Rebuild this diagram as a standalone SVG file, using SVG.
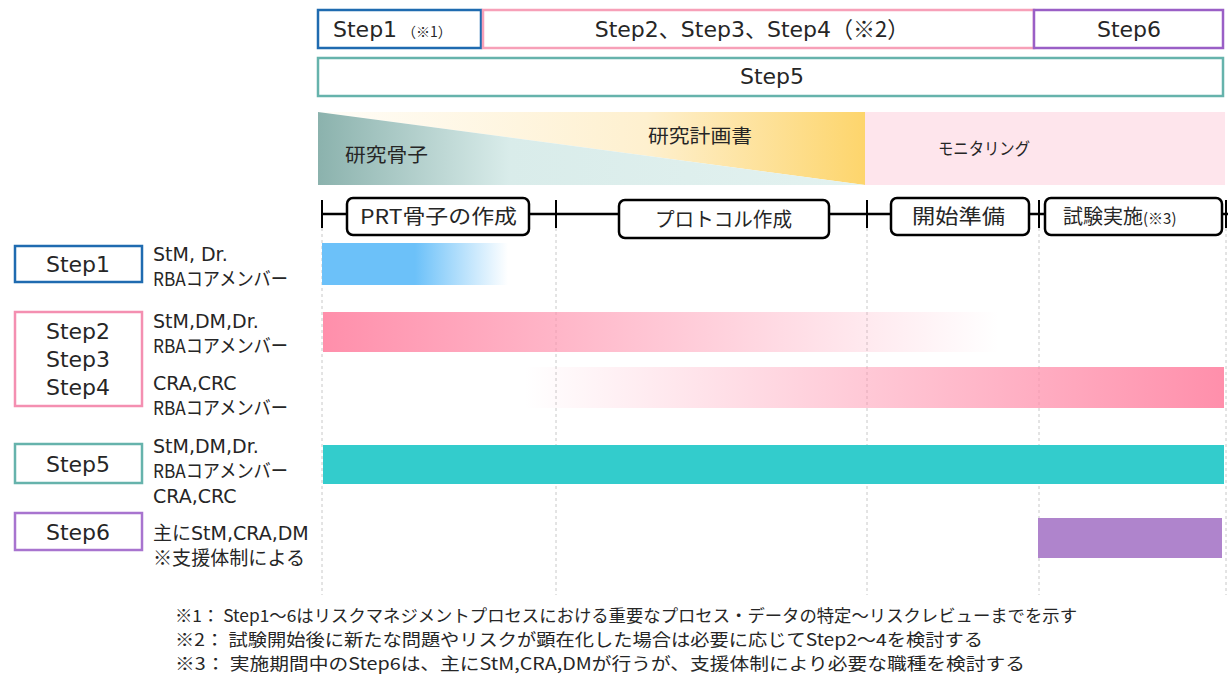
<svg xmlns="http://www.w3.org/2000/svg" width="1230" height="678" viewBox="0 0 1230 678">
<defs>
<style>
text{font-family:"Noto Sans CJK JP","Liberation Sans",sans-serif;fill:#262626}
.lat{font-family:"DejaVu Sans","Noto Sans CJK JP",sans-serif}
.box{fill:#fff;stroke-width:2.5}
.t20{font-size:22px}
.t17{font-size:19px}
.lbl{font-size:17px}
.mem{font-size:19px}
.pl{font-size:20px}
.ph{fill:#fff;stroke:#000;stroke-width:2.5}
.vd{stroke:#c8c8c8;stroke-width:1;stroke-dasharray:3 3}
</style>
<linearGradient id="gTeal" x1="0" y1="0" x2="1" y2="0"><stop offset="0" stop-color="#8BB2AD"/><stop offset="0.35" stop-color="#D9ECEA"/><stop offset="1" stop-color="#E3F2F0"/></linearGradient>
<linearGradient id="gYel" x1="0" y1="0" x2="1" y2="0"><stop offset="0" stop-color="#FFFDF8"/><stop offset="0.6" stop-color="#FEF0CF"/><stop offset="1" stop-color="#FDD56C"/></linearGradient>
<linearGradient id="gBlue" x1="0" y1="0" x2="1" y2="0"><stop offset="0" stop-color="#6CC1F9"/><stop offset="0.5" stop-color="#6CC1F9"/><stop offset="1" stop-color="#6CC1F9" stop-opacity="0"/></linearGradient>
<linearGradient id="gPink1" x1="0" y1="0" x2="1" y2="0"><stop offset="0" stop-color="#FF8FAB"/><stop offset="1" stop-color="#FF8FAB" stop-opacity="0"/></linearGradient>
<linearGradient id="gPink2" x1="0" y1="0" x2="1" y2="0"><stop offset="0" stop-color="#FF8FAB" stop-opacity="0"/><stop offset="1" stop-color="#FF8FAB"/></linearGradient>
</defs>
<rect width="1230" height="678" fill="#fff"/>

<g id="top-step1"><rect class="box" x="318" y="10" width="163" height="38" stroke="#1F6BB0"/><text x="333" y="37" class="t20 lat">Step1</text><text x="402" y="37" font-size="14">（※1）</text></g>
<g id="top-step234"><rect class="box" x="483" y="10" width="551" height="38" stroke="#F7A0B8"/><text x="752" y="37" class="t20" text-anchor="middle"><tspan class="lat">Step2</tspan>、<tspan class="lat">Step3</tspan>、<tspan class="lat">Step4</tspan>（※2）</text></g>
<g id="top-step6"><rect class="box" x="1034" y="10" width="189" height="38" stroke="#9A5FC6"/><text x="1129" y="37" class="t20 lat" text-anchor="middle">Step6</text></g>
<g id="top-step5"><rect class="box" x="318" y="58" width="905" height="38" stroke="#66B3AC"/><text x="772" y="84" class="t20 lat" text-anchor="middle">Step5</text></g>

<g id="phase-bg">
<polygon points="318,112 865,112 865,185" fill="url(#gYel)"/>
<polygon points="318,112 318,185 865,185" fill="url(#gTeal)"/>
<rect x="865" y="112" width="360" height="73" fill="#FEE5EC"/>
<text x="345" y="162" class="t17" textLength="83" lengthAdjust="spacingAndGlyphs">研究骨子</text>
<text x="648" y="143" class="t17" textLength="104" lengthAdjust="spacingAndGlyphs">研究計画書</text>
<text x="938" y="155" font-size="17" textLength="92" lengthAdjust="spacingAndGlyphs">モニタリング</text>
</g>

<g id="grid">
<line class="vd" x1="322" y1="228" x2="322" y2="595"/>
<line class="vd" x1="556" y1="228" x2="556" y2="595"/>
<line class="vd" x1="867" y1="228" x2="867" y2="595"/>
<line class="vd" x1="1039" y1="228" x2="1039" y2="595"/>
<line class="vd" x1="1226" y1="228" x2="1226" y2="595"/>
</g>

<g id="connectors">
<line x1="322" y1="214" x2="1228" y2="214" stroke="#000" stroke-width="2.5"/>
<line x1="322" y1="200" x2="322" y2="228" stroke="#000" stroke-width="2"/>
<line x1="556" y1="200" x2="556" y2="228" stroke="#000" stroke-width="2"/>
<line x1="867" y1="200" x2="867" y2="228" stroke="#000" stroke-width="2"/>
<line x1="1039" y1="200" x2="1039" y2="228" stroke="#000" stroke-width="2"/>
<line x1="1226" y1="200" x2="1226" y2="228" stroke="#000" stroke-width="2"/>
</g>

<g id="phase-prt"><rect class="ph" x="347" y="198" width="182" height="37" rx="6"/><text x="360" y="224" class="pl" textLength="157" lengthAdjust="spacingAndGlyphs">PRT骨子の作成</text></g>
<g id="phase-protocol"><rect class="ph" x="619" y="200" width="210" height="38" rx="6"/><text x="655" y="227" class="pl" textLength="137" lengthAdjust="spacingAndGlyphs">プロトコル作成</text></g>
<g id="phase-prep"><rect class="ph" x="891" y="198" width="138" height="37" rx="6"/><text x="912" y="224" class="pl" textLength="93" lengthAdjust="spacingAndGlyphs">開始準備</text></g>
<g id="phase-exec"><rect class="ph" x="1045" y="198" width="177" height="37" rx="6"/><text x="1063" y="224" class="pl">試験実施<tspan font-size="15">(※3)</tspan></text></g>

<g id="left-step1"><rect class="box" x="15" y="246" width="127" height="36" stroke="#1F6BB0"/><text x="78" y="272" class="t20 lat" text-anchor="middle">Step1</text>
<text x="153" y="261" class="mem lat">StM, Dr.</text><text x="153" y="286" class="mem" textLength="135" lengthAdjust="spacingAndGlyphs">RBAコアメンバー</text></g>
<g id="left-step234"><rect class="box" x="15" y="312" width="127" height="94" stroke="#F48FB1"/>
<text x="78" y="339" class="t20 lat" text-anchor="middle">Step2</text><text x="78" y="367" class="t20 lat" text-anchor="middle">Step3</text><text x="78" y="395" class="t20 lat" text-anchor="middle">Step4</text>
<text x="153" y="328" class="mem lat">StM,DM,Dr.</text><text x="153" y="353" class="mem" textLength="135" lengthAdjust="spacingAndGlyphs">RBAコアメンバー</text>
<text x="153" y="390" class="mem lat">CRA,CRC</text><text x="153" y="415" class="mem" textLength="135" lengthAdjust="spacingAndGlyphs">RBAコアメンバー</text></g>
<g id="left-step5"><rect class="box" x="15" y="444" width="127" height="39" stroke="#66B3AC"/><text x="78" y="472" class="t20 lat" text-anchor="middle">Step5</text>
<text x="153" y="453" class="mem lat">StM,DM,Dr.</text><text x="153" y="478" class="mem" textLength="135" lengthAdjust="spacingAndGlyphs">RBAコアメンバー</text><text x="153" y="503" class="mem lat">CRA,CRC</text></g>
<g id="left-step6"><rect class="box" x="15" y="513" width="127" height="37" stroke="#A874CF"/><text x="78" y="540" class="t20 lat" text-anchor="middle">Step6</text>
<text x="153" y="540" class="mem">主に<tspan class="lat">StM,CRA,DM</tspan></text><text x="153" y="565" class="mem" textLength="152" lengthAdjust="spacingAndGlyphs">※支援体制による</text></g>

<g id="bars">
<rect x="322" y="243" width="186" height="42" fill="url(#gBlue)"/>
<rect x="323" y="312" width="675" height="40" fill="url(#gPink1)"/>
<rect x="525" y="367" width="699" height="41" fill="url(#gPink2)"/>
<rect x="323" y="445" width="901" height="39" fill="#33CCCC"/>
<rect x="1038" y="518" width="184" height="40" fill="#AF84CC"/>
</g>

<g id="notes">
<text x="175" y="622" class="lbl" textLength="902" lengthAdjust="spacingAndGlyphs">※1： Step1～6はリスクマネジメントプロセスにおける重要なプロセス・データの特定～リスクレビューまでを示す</text>
<text x="175" y="646" class="lbl" textLength="808" lengthAdjust="spacingAndGlyphs">※2： 試験開始後に新たな問題やリスクが顕在化した場合は必要に応じてStep2～4を検討する</text>
<text x="175" y="670" class="lbl" textLength="850" lengthAdjust="spacingAndGlyphs">※3： 実施期間中のStep6は、主にStM,CRA,DMが行うが、支援体制により必要な職種を検討する</text>
</g>
</svg>
